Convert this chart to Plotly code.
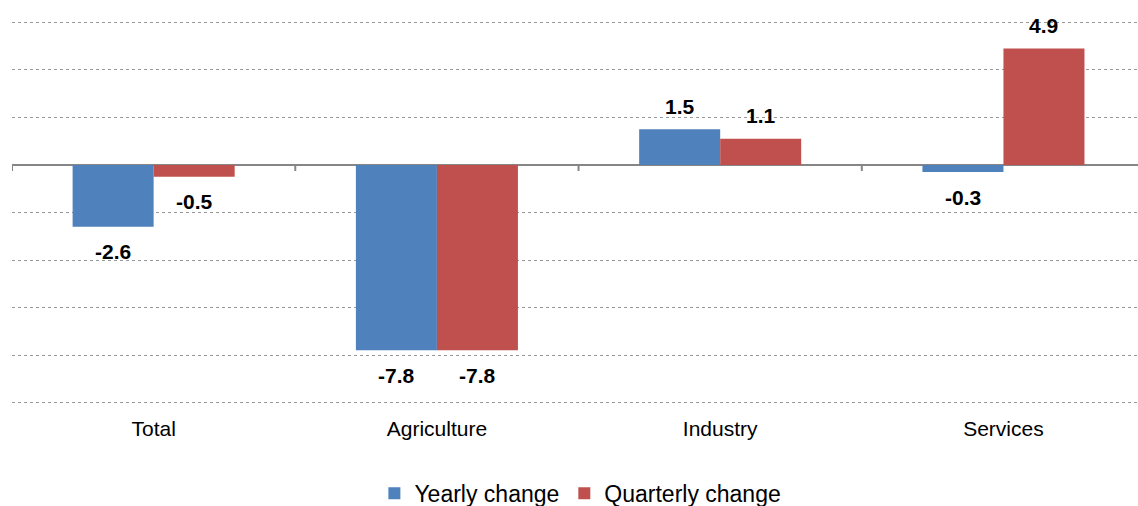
import plotly.graph_objects as go

# Dados do gráfico
categories = ["Total", "Agriculture", "Industry", "Services"]
yearly_change = [-2.6, -7.8, 1.5, -0.3]
quarterly_change = [-0.5, -7.8, 1.1, 4.9]

BLUE = "#4F81BD"
RED = "#C0504D"
FONT = "Liberation Sans, Arial, sans-serif"

fig = go.Figure()

fig.add_trace(go.Bar(
    x=categories, y=yearly_change, name="Yearly change",
    marker=dict(color=BLUE, line=dict(width=0)),
))
fig.add_trace(go.Bar(
    x=categories, y=quarterly_change, name="Quarterly change",
    marker=dict(color=RED, line=dict(width=0)),
))

# Rótulos dos valores acima / abaixo das barras
for series, shift in ((yearly_change, -40.5), (quarterly_change, 40.5)):
    for cat, val in zip(categories, series):
        fig.add_annotation(
            x=cat, y=val, text=f"<b>{val:.1f}</b>", showarrow=False,
            xshift=shift, yshift=23 if val > 0 else -25,
            font=dict(family=FONT, size=21, color="#000000"),
        )

# Pequenas marcas no eixo zero entre as categorias
for b in [-0.5, 0.5, 1.5, 2.5]:
    fig.add_shape(
        type="line", xref="x", yref="y", x0=b, x1=b,
        ysizemode="pixel", yanchor=0, y0=0, y1=-6,
        line=dict(color="#868686", width=2),
    )

fig.update_layout(
    width=1138, height=506,
    margin=dict(l=12, r=0, t=20, b=101),
    paper_bgcolor="white", plot_bgcolor="white",
    barmode="group", bargap=0.428, bargroupgap=0,
    font=dict(family=FONT, color="#000000"),
    showlegend=True,
    legend=dict(
        orientation="h", xref="container", yref="container",
        x=0.51, xanchor="center", y=0.025, yanchor="middle",
        font=dict(family=FONT, size=23, color="#000000"),
        tracegroupgap=0,
    ),
    xaxis=dict(
        range=[-0.5, 3.475], showgrid=False, showline=False, zeroline=False,
        ticks="", tickfont=dict(family=FONT, size=21, color="#000000"),
        ticklabelstandoff=9,
    ),
    yaxis=dict(
        range=[-10.1, 6.1], tick0=0, dtick=2, showticklabels=False, ticks="",
        showgrid=True, gridcolor="#999999", griddash="dot", gridwidth=1,
        zeroline=True, zerolinecolor="#868686", zerolinewidth=2,
        showline=False,
    ),
)

fig.write_html(
    "out.html",
    config={"displayModeBar": False},
    post_script="document.body.style.margin='0';",
)
